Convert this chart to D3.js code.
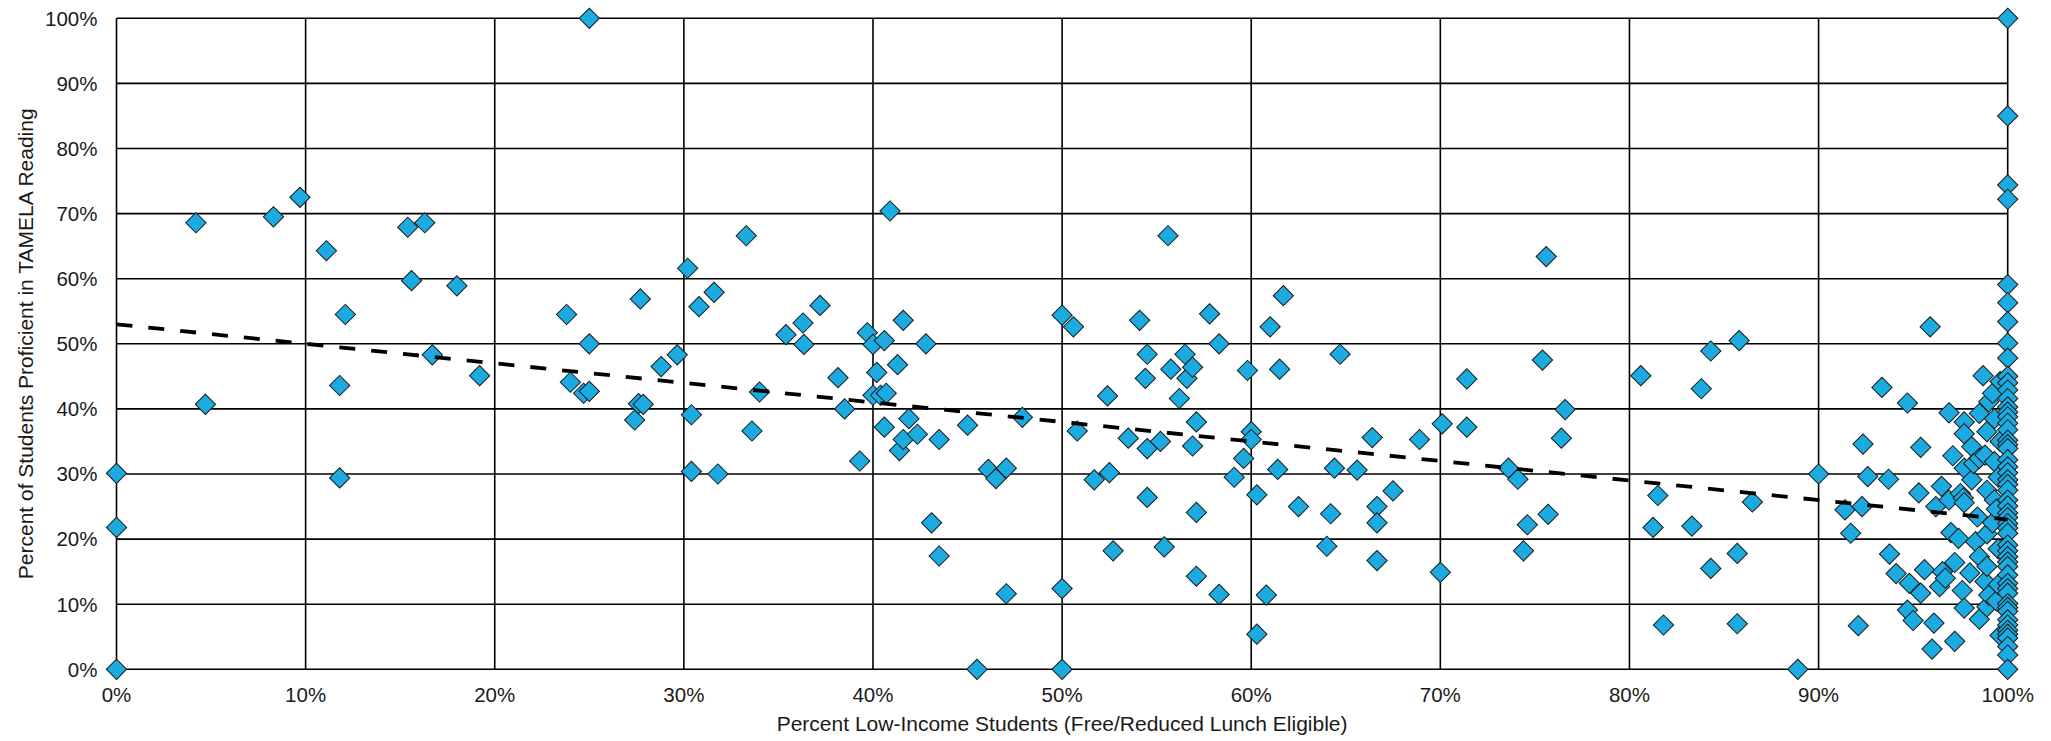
<!DOCTYPE html>
<html>
<head>
<meta charset="utf-8">
<script src="https://cdn.jsdelivr.net/npm/d3@7"></script>
<style>
    html, body { margin: 0; padding: 0; background: #fff; }
    svg { display: block; font-family: 'Liberation Sans', Arial, sans-serif; }
</style>
</head>
<body>
<div class="chart"></div>
<script>
// percent low-income (x) vs percent proficient (y)
const schoolPoints = [
    [0, 0], [0, 21.8], [0, 30.1], [4.2, 68.6], [4.7, 40.7], [8.3, 69.5], [9.7, 72.5],
    [11.1, 64.3], [11.8, 43.6], [11.8, 29.4], [12.1, 54.5], [15.4, 67.9], [15.6, 59.7],
    [16.3, 68.6], [16.7, 48.3], [18.0, 58.9], [19.2, 45.1], [23.8, 54.5], [24.0, 44.1],
    [24.7, 42.4], [25.0, 42.7], [25.0, 50.0], [25.0, 100], [27.4, 38.3], [27.6, 40.8],
    [27.85, 40.7], [27.7, 56.9], [28.8, 46.5], [29.65, 48.3], [30.2, 61.6], [30.4, 39.1],
    [30.4, 30.4], [30.8, 55.7], [31.6, 57.9], [31.8, 30.0], [33.3, 66.6], [33.6, 36.6],
    [34.0, 42.6], [35.4, 51.4], [36.3, 53.2], [36.35, 49.9], [37.2, 55.9], [38.15, 44.8],
    [38.5, 40.0], [39.3, 32.0], [39.7, 51.7], [40.0, 49.9], [40.0, 42.1], [40.2, 45.6],
    [40.4, 42.1], [40.6, 50.5], [40.6, 37.2], [40.7, 42.4], [40.9, 70.4], [41.3, 46.8],
    [41.4, 33.6], [41.6, 35.3], [41.6, 53.6], [41.9, 38.5], [42.35, 36.1], [42.8, 50.0],
    [43.1, 22.5], [43.5, 35.3], [43.5, 17.4], [45.0, 37.5], [45.5, 0], [46.1, 30.7],
    [46.5, 29.3], [47.05, 30.9], [47.05, 11.6], [47.9, 38.7], [50.0, 54.4], [50.0, 12.4],
    [50.0, 0], [50.6, 52.6], [50.8, 36.6], [51.7, 29.1], [52.4, 42.0], [52.5, 30.2],
    [52.7, 18.2], [53.5, 35.5], [54.1, 53.6], [54.4, 44.7], [54.5, 48.4], [54.5, 33.9],
    [54.5, 26.4], [55.2, 35.0], [55.4, 18.8], [55.6, 66.6], [55.75, 46.1], [56.2, 41.6],
    [56.5, 48.4], [56.6, 44.7], [56.9, 46.4], [56.9, 34.3], [57.1, 38.0], [57.1, 24.1],
    [57.1, 14.3], [57.8, 54.6], [58.3, 50.0], [58.3, 11.5], [59.1, 29.5], [59.6, 32.4],
    [59.8, 45.9], [60.0, 36.5], [60.0, 35.3], [60.3, 26.8], [60.3, 5.4], [60.8, 11.4],
    [61.0, 52.6], [61.4, 30.7], [61.5, 46.1], [61.7, 57.4], [62.5, 25.0], [64.0, 18.9],
    [64.2, 23.9], [64.4, 30.9], [64.7, 48.4], [65.6, 30.6], [66.4, 35.6], [66.65, 25.0],
    [66.65, 22.5], [66.65, 16.7], [67.5, 27.4], [68.9, 35.3], [70.0, 14.9], [70.1, 37.7],
    [71.4, 44.6], [71.4, 37.2], [73.6, 30.9], [74.1, 29.2], [74.4, 18.2], [74.6, 22.2],
    [75.4, 47.5], [75.6, 63.4], [75.7, 23.8], [76.4, 35.5], [76.6, 39.9], [80.6, 45.1],
    [81.25, 21.8], [81.5, 26.7], [81.8, 6.8], [83.3, 22.0], [83.8, 43.1], [84.3, 48.9],
    [84.3, 15.5], [85.7, 17.8], [85.7, 7.0], [85.8, 50.5], [86.5, 25.7], [88.9, 0],
    [90.0, 30.0], [91.4, 24.5], [91.7, 20.9], [92.1, 6.7], [92.3, 25.0], [92.35, 34.6],
    [92.6, 29.6], [93.35, 43.3], [93.7, 29.2], [93.75, 17.7], [94.1, 14.7], [94.7, 40.9],
    [94.7, 9.1], [94.8, 13.2], [95.0, 7.5], [95.3, 27.1], [95.4, 34.1], [95.4, 11.7],
    [95.6, 15.3], [95.9, 52.6], [96.0, 3.1], [96.1, 7.1], [96.2, 25.0], [96.4, 12.7],
    [96.5, 28.1], [96.55, 15.0], [96.7, 14.0], [96.9, 39.4], [96.9, 26.0], [97.0, 21.0],
    [97.1, 32.8], [97.2, 16.4], [97.2, 4.3], [97.4, 20.1], [97.5, 27.0], [97.6, 12.1],
    [97.65, 26.3], [97.7, 38.0], [97.7, 36.2], [97.7, 30.9], [97.7, 25.6], [97.7, 9.4],
    [98.0, 14.8], [98.1, 34.2], [98.1, 29.1], [98.2, 31.6], [98.3, 19.6], [98.4, 23.4],
    [98.5, 39.3], [98.5, 32.4], [98.5, 17.3], [98.5, 7.7], [98.7, 45.1], [98.8, 32.9],
    [98.8, 13.5], [98.9, 36.5], [98.9, 27.5], [98.9, 20.8], [98.9, 15.8], [98.9, 9.6],
    [99.0, 41.1], [99.0, 11.4], [99.2, 42.4], [99.2, 22.5], [99.3, 31.9], [99.3, 38.5],
    [99.3, 26.0], [99.4, 24.6], [99.4, 10.5], [99.5, 18.5], [99.5, 13.0], [99.5, 29.5],
    [99.6, 35.0], [99.6, 44.2], [99.6, 5.2]
];

// schools at 100% low-income, stacked along the right edge
const fullLowIncome = [
    100, 85.0, 74.4, 72.2, 59.1, 56.3, 53.4, 50.1, 47.8, 45.0, 44.0, 42.9, 41.6, 40.3,
    39.5, 38.8, 37.8, 36.8, 35.2, 34.5, 33.9, 32.2, 31.1, 30.2, 29.1, 28.4, 27.5, 26.0,
    25.1, 24.0, 23.3, 22.4, 21.7, 20.9, 19.1, 18.2, 17.3, 16.5, 15.8, 14.5, 13.2, 12.4,
    11.7, 10.1, 9.5, 8.9, 7.6, 6.8, 6.0, 5.4, 4.8, 3.5, 2.2, 0
];

const trendEnds = [[0, 53.0], [100, 23.0]];
const xTicks = [0, 10, 20, 30, 40, 50, 60, 70, 80, 90, 100];
const yTicks = [0, 10, 20, 30, 40, 50, 60, 70, 80, 90, 100];

const width = 2051,
    height = 741,
    margin = { top: 18.3, right: 43.3, bottom: 71.7, left: 116.5 };
let svg, x, y;

const chart = {
    init: function() {
        this.setupSvg();
        this.drawGrid();
        this.drawLabels();
        this.drawPoints();
        this.drawTrend();
    },

    setupSvg: function() {
        svg = d3.select('.chart')
            .append('svg')
            .attr('width', width)
            .attr('height', height);

        svg.append('rect')
            .attr('width', width)
            .attr('height', height)
            .attr('fill', '#fff');

        x = d3.scaleLinear().domain([0, 100]).range([margin.left, width - margin.right]);
        y = d3.scaleLinear().domain([0, 100]).range([height - margin.bottom, margin.top]);
    },

    drawGrid: function() {
        const grid = svg.append('g')
            .attr('stroke', '#000')
            .attr('stroke-width', 1.6);

        grid.selectAll('.hline')
            .data(yTicks)
            .enter()
            .append('line')
            .attr('x1', x(0))
            .attr('x2', x(100))
            .attr('y1', function(d) { return y(d); })
            .attr('y2', function(d) { return y(d); });

        grid.selectAll('.vline')
            .data(xTicks)
            .enter()
            .append('line')
            .attr('y1', y(0))
            .attr('y2', y(100))
            .attr('x1', function(d) { return x(d); })
            .attr('x2', function(d) { return x(d); });
    },

    drawLabels: function() {
        const labels = svg.append('g')
            .attr('fill', '#1a1a1a')
            .attr('font-size', 20.5);

        labels.selectAll('.ylabel')
            .data(yTicks)
            .enter()
            .append('text')
            .attr('x', 97.5)
            .attr('y', function(d) { return y(d); })
            .attr('dy', '0.36em')
            .attr('text-anchor', 'end')
            .text(function(d) { return d + '%'; });

        labels.selectAll('.xlabel')
            .data(xTicks)
            .enter()
            .append('text')
            .attr('x', function(d) { return x(d); })
            .attr('y', 702)
            .attr('text-anchor', 'middle')
            .text(function(d) { return d + '%'; });

        labels.append('text')
            .attr('x', (x(0) + x(100)) / 2)
            .attr('y', 731)
            .attr('text-anchor', 'middle')
            .attr('font-size', 21)
            .text('Percent Low-Income Students (Free/Reduced Lunch Eligible)');

        labels.append('text')
            .attr('transform', 'translate(33,' + ((y(0) + y(100)) / 2) + ') rotate(-90)')
            .attr('text-anchor', 'middle')
            .attr('font-size', 21)
            .text('Percent of Students Proficient in TAMELA Reading');
    },

    drawPoints: function() {
        const all = schoolPoints.concat(fullLowIncome.map(function(v) { return [100, v]; }));
        const diamond = d3.symbol().type(d3.symbolSquare).size(205);

        svg.append('g')
            .selectAll('path')
            .data(all)
            .enter()
            .append('path')
            .attr('d', diamond)
            .attr('transform', function(d) {
                return 'translate(' + x(d[0]) + ',' + y(d[1]) + ') rotate(45)';
            })
            .attr('fill', '#1cabe1')
            .attr('stroke', '#1a1a1a')
            .attr('stroke-width', 1);
    },

    drawTrend: function() {
        const line = d3.line()
            .x(function(d) { return x(d[0]); })
            .y(function(d) { return y(d[1]); });

        svg.append('path')
            .datum(trendEnds)
            .attr('d', line)
            .attr('fill', 'none')
            .attr('stroke', '#000')
            .attr('stroke-width', 3.8)
            .attr('stroke-dasharray', '16,16');
    }
};

chart.init();
</script>
</body>
</html>
